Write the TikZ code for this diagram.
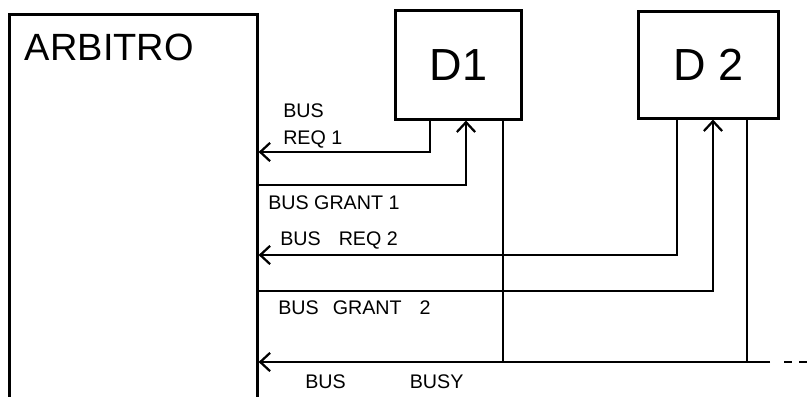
\documentclass[tikz,border=0pt]{standalone}
\usepackage{fontspec}
\setmainfont{Liberation Sans}
\usetikzlibrary{arrows.meta,calc}
\tikzset{
  blk/.style={draw,line width=1.8pt,inner sep=0pt,anchor=north west},
  sig/.style={line width=1.8pt},
  tip/.style={sig,-{Straight Barb[length=7pt,width=13pt,line width=1.6pt]}},
  lbl/.style={anchor=west,inner sep=0pt,align=left,font=\fontsize{14}{19}\selectfont}
}

\begin{document}
\begin{tikzpicture}[x=.025cm,y=-.025cm]
\useasboundingbox (0,0) rectangle (807,396);
\node[blk,minimum width=6.2cm,minimum height=9.9cm] (arb) at (8,13) {};
\node[anchor=west,font=\fontsize{27}{29}\selectfont] (arbname) at (20,47) {ARBITRO};
\node[blk,minimum width=3.15cm,minimum height=2.725cm,font=\fontsize{32}{34}\selectfont] (d1) at (394,9) {D1};
\node[blk,minimum width=3.5cm,minimum height=2.675cm,font=\fontsize{32}{34}\selectfont] (d2) at (637,10) {D 2};
\coordinate (d1req) at ($(d1.south west)+(36,0)$);
\coordinate (d1gnt) at ($(d1.south west)+(72,0)$);
\coordinate (d1busy) at ($(d1.south west)+(109,0)$);
\coordinate (d2req) at ($(d2.south west)+(40,0)$);
\coordinate (d2gnt) at ($(d2.south west)+(76,0)$);
\coordinate (d2busy) at ($(d2.south west)+(110,0)$);
\coordinate (busend) at (770,362);
\coordinate (busout) at (807,362);
\draw[tip] (d1req) |- (arb.east |- 0,152);
\draw[tip] (arb.east |- 0,185) -| (d1gnt);
\draw[tip] (d2req) |- (arb.east |- 0,255);
\draw[tip] (arb.east |- 0,291) -| (d2gnt);
\draw[tip] (busend) -- (arb.east |- busend);
\draw[sig] (d1busy) -- (d1busy |- busend);
\draw[sig] (d2busy) -- (d2busy |- busend);
\draw[sig,dash pattern=on 6pt off 5pt] ($(busend)+(14,0)$) -- (busout);
\node[lbl] (req1) at (283,126) {BUS\\REQ 1};
\node[lbl] (gnt1) at (268,203) {BUS GRANT 1};
\node[lbl] (req2) at (280,240) {BUS\hspace{.45cm}REQ 2};
\node[lbl] (gnt2) at (278,308) {BUS\hspace{.35cm}GRANT\hspace{.45cm}2};
\node[lbl] (busy) at (305,382) {BUS\hspace{1.6cm}BUSY};
\end{tikzpicture}
\end{document}
